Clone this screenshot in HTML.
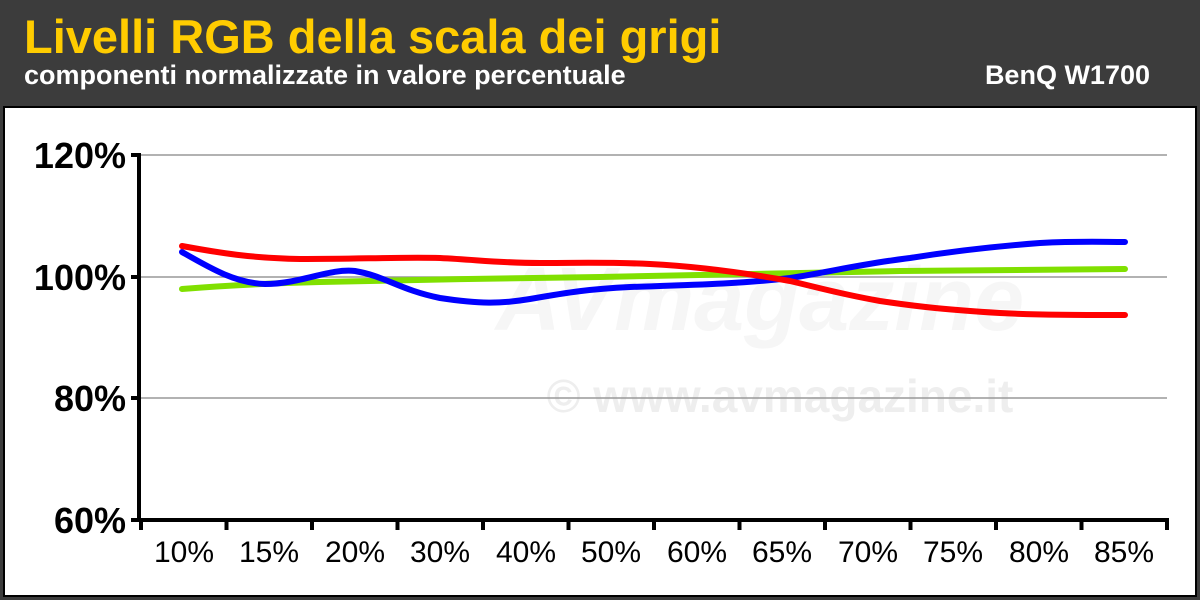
<!DOCTYPE html>
<html><head><meta charset="utf-8"><style>
html,body{margin:0;padding:0;width:1200px;height:600px;overflow:hidden;background:#3c3c3c;}
</style></head><body>
<svg width="1200" height="600" xmlns="http://www.w3.org/2000/svg" font-family="Liberation Sans, Arial, sans-serif">
<rect x="0" y="0" width="1200" height="600" fill="#3c3c3c"/>
<text x="24" y="53" fill="#ffcc00" font-size="47" font-weight="bold">Livelli RGB della scala dei grigi</text>
<text x="24" y="84" fill="#fff" font-size="27" font-weight="bold">componenti normalizzate in valore percentuale</text>
<text x="1150" y="84" fill="#fff" font-size="27" font-weight="bold" text-anchor="end">BenQ W1700</text>
<rect x="3" y="106" width="1194" height="491" fill="#000"/>
<rect x="5" y="108" width="1190" height="487" fill="#fff"/>
<text x="780" y="412" fill="#eeeeee" font-size="46" font-weight="bold" text-anchor="middle">© www.avmagazine.it</text>
<text x="760" y="330" fill="#f6f6f6" font-size="90" font-weight="bold" font-style="italic" text-anchor="middle">AVmagazine</text>
<g stroke="#999" stroke-width="1.5">
<line x1="141" y1="155" x2="1167" y2="155"/>
<line x1="141" y1="277" x2="1167" y2="277"/>
<line x1="141" y1="398" x2="1167" y2="398"/>
</g>
<g stroke="#000" stroke-width="4" fill="none">
<line x1="139" y1="153" x2="139" y2="522"/>
<line x1="137" y1="520" x2="1169" y2="520"/>
<line x1="131" y1="155" x2="139" y2="155"/>
<line x1="131" y1="277" x2="139" y2="277"/>
<line x1="131" y1="398" x2="139" y2="398"/>
<line x1="131" y1="520" x2="139" y2="520"/>
<g>
<line x1="141" y1="520" x2="141" y2="530"/><line x1="226.5" y1="520" x2="226.5" y2="530"/><line x1="312" y1="520" x2="312" y2="530"/><line x1="397.5" y1="520" x2="397.5" y2="530"/><line x1="483" y1="520" x2="483" y2="530"/><line x1="568.5" y1="520" x2="568.5" y2="530"/><line x1="654" y1="520" x2="654" y2="530"/><line x1="739.5" y1="520" x2="739.5" y2="530"/><line x1="825" y1="520" x2="825" y2="530"/><line x1="910.5" y1="520" x2="910.5" y2="530"/><line x1="996" y1="520" x2="996" y2="530"/><line x1="1081.5" y1="520" x2="1081.5" y2="530"/><line x1="1167" y1="520" x2="1167" y2="530"/>
</g></g>
<g font-size="36" font-weight="bold" text-anchor="end" fill="#000">
<text x="126" y="168">120%</text><text x="126" y="290">100%</text><text x="126" y="411">80%</text><text x="126" y="533">60%</text>
</g>
<g font-size="30" text-anchor="middle" fill="#000">
<text x="184" y="562">10%</text><text x="269" y="562">15%</text><text x="355" y="562">20%</text><text x="440" y="562">30%</text><text x="526" y="562">40%</text><text x="611" y="562">50%</text><text x="697" y="562">60%</text><text x="782" y="562">65%</text><text x="868" y="562">70%</text><text x="953" y="562">75%</text><text x="1039" y="562">80%</text><text x="1124" y="562">85%</text>
</g>
<g fill="none" stroke-width="6" stroke-linecap="round" stroke-linejoin="round">
<path stroke="#80e000" d="M182,289 C230,285 280,283 320,282 C420,280 500,278 600,277 C700,275 800,273 900,271 C1000,270 1080,269 1125,269"/>
<path stroke="#0000ff" d="M182,252 C210,268 235,283 265,284 C300,284 330,268 355,271 C385,276 400,290 440,298 C480,304 500,304 530,299 C570,292 590,289 630,287 C690,285 740,284 790,278 C830,272 860,264 910,258 C960,250 1000,246 1040,243 C1080,241 1100,242 1125,242"/>
<path stroke="#ff0000" d="M182,246 C220,253 250,258 300,259 C360,259 400,257 440,258 C480,260 500,263 540,263 C580,263 610,262 650,264 C690,266 740,272 790,281 C820,288 840,294 880,301 C920,307 950,310 1000,313 C1040,315 1080,315 1125,315"/>
</g>
</svg>
</body></html>
